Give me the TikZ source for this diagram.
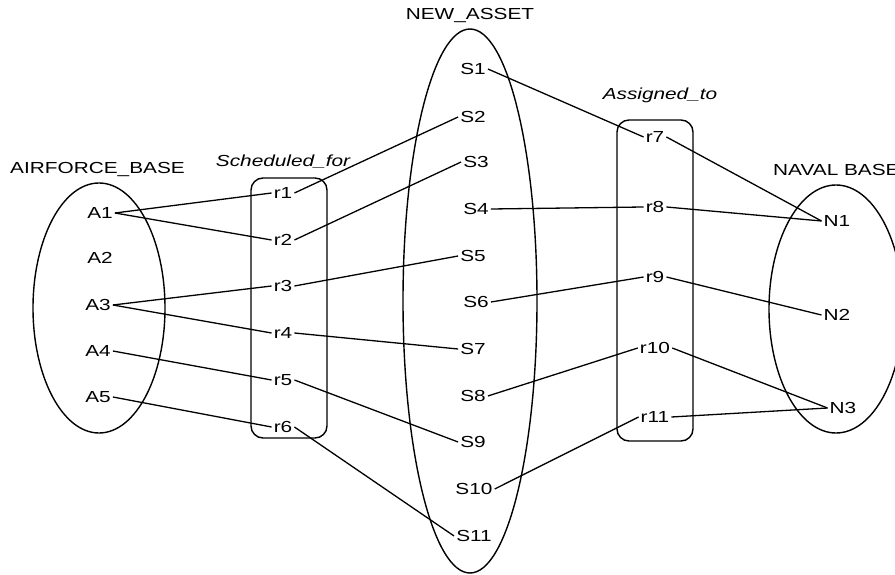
\documentclass[tikz,border=0pt]{standalone}
\usepackage{fontspec}
\setmainfont[FakeStretch=1.3]{Liberation Sans}
\begin{document}
\begin{tikzpicture}[x=1pt,y=-1pt,
  lbl/.style={font=\fontsize{16}{19}\selectfont, inner sep=2pt},
  ttl/.style={font=\fontsize{16}{19}\selectfont, inner sep=0pt},
  rel/.style={font=\fontsize{16}{19}\selectfont\itshape, inner sep=0pt},
  shp/.style={draw, line width=1.4pt},
  con/.style={line width=1.3pt}]
\clip (0,0) rectangle (895,575);
% shapes
\draw[shp] (99,308) ellipse [x radius=66, y radius=125];
\draw[shp] (470,301) ellipse [x radius=67, y radius=272];
\draw[shp] (836,309) ellipse [x radius=67, y radius=124];
\draw[shp, rounded corners=12pt] (251,178) rectangle (327,438);
\draw[shp, rounded corners=12pt] (617,120) rectangle (693,441);
% titles
\node[ttl] (tA) at (97.5,170) {AIRFORCE\_BASE};
\node[ttl] (tS) at (470,16) {NEW\_ASSET};
\node[ttl, anchor=west] (tN) at (773,170) {NAVAL BASE};
\node[rel] (tSch) at (283,162) {Scheduled\_for};
\node[rel] (tAs) at (660,95) {Assigned\_to};
% A nodes
\node[lbl] (A1) at (100,213) {A1};
\node[lbl] (A2) at (100,258) {A2};
\node[lbl] (A3) at (98,305) {A3};
\node[lbl] (A4) at (98,351) {A4};
\node[lbl] (A5) at (98,397) {A5};
% r nodes
\node[lbl] (r1) at (283,193) {r1};
\node[lbl] (r2) at (283,240) {r2};
\node[lbl] (r3) at (283,286) {r3};
\node[lbl] (r4) at (283,333) {r4};
\node[lbl] (r5) at (283,380) {r5};
\node[lbl] (r6) at (283,427) {r6};
% S nodes
\node[lbl] (S1) at (473,69) {S1};
\node[lbl] (S2) at (473,117) {S2};
\node[lbl] (S3) at (476,162) {S3};
\node[lbl] (S4) at (476,209) {S4};
\node[lbl] (S5) at (473,256) {S5};
\node[lbl] (S6) at (476,302) {S6};
\node[lbl] (S7) at (473,349) {S7};
\node[lbl] (S8) at (473,396) {S8};
\node[lbl] (S9) at (473,442) {S9};
\node[lbl] (S10) at (474,489) {S10};
\node[lbl] (S11) at (474,536) {S11};
% r7-r11
\node[lbl] (r7) at (655,137) {r7};
\node[lbl] (r8) at (655,207) {r8};
\node[lbl] (r9) at (655,277) {r9};
\node[lbl] (r10) at (655,348) {r10};
\node[lbl] (r11) at (655,417) {r11};
% N nodes
\node[lbl] (N1) at (837,221) {N1};
\node[lbl] (N2) at (837,315) {N2};
\node[lbl] (N3) at (843,408) {N3};
% connectors
\foreach \a/\b in {A1/r1,A1/r2,A3/r3,A3/r4,A4/r5,A5/r6,
                   r1/S2,r2/S3,r3/S5,r4/S7,r5/S9,r6/S11,
                   S1/r7,S4/r8,S6/r9,S8/r10,S10/r11,
                   r7/N1,r8/N1,r9/N2,r10/N3,r11/N3}
  \draw[con] (\a.east) -- (\b.west);
\end{tikzpicture}
\end{document}
